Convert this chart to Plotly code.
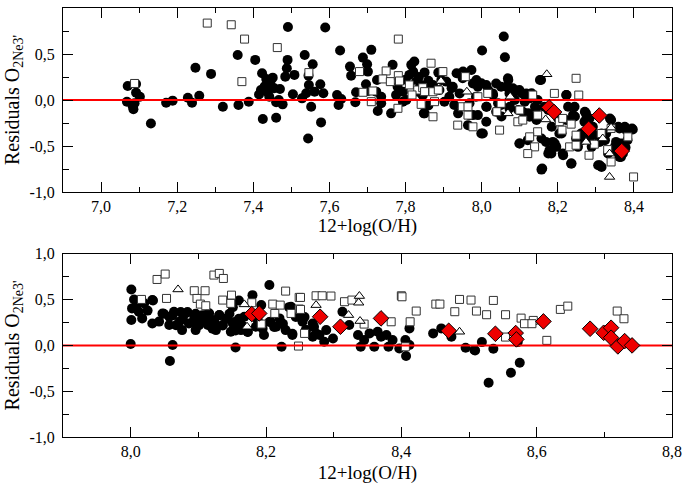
import plotly.graph_objects as go
from plotly.subplots import make_subplots

# ---------------- TOP PANEL DATA ----------------
top_circ_x = [7.070,7.092,7.092,7.102,7.068,7.083,7.085,7.088,7.131,7.171,7.188,7.228,7.239,7.248,7.258,7.289,7.320,
 7.359,7.361,7.388,7.405,7.423,7.434,7.451,7.42,7.438,7.455,7.442,7.467,7.46,7.477,7.425,7.46,7.491,7.49,7.488,7.484,7.508,
 7.535,7.556,7.545,7.546,7.539,7.528,7.504,7.552,7.544,7.561,7.576,7.584,7.578,7.589,7.62,7.624,7.628,7.631,7.654,7.657,
 7.67,7.668,7.688,7.699,7.701,7.71,7.696,7.701,7.725,7.723,7.736,7.736,7.727,7.762,7.766,7.779,7.793,7.802,7.815,7.823,
 7.81,7.828,7.841,7.832,7.848,7.775,7.793,7.43,7.445,7.47,7.415,7.80,7.82,7.835,7.85,7.86,7.855,7.845,7.86,
 7.886,7.894,7.921,7.934,7.951,7.973,7.938,7.964,7.977,7.986,7.999,8.001,7.999,8.017,8.013,8.03,8.043,8.052,8.058,8.061,
 8.065,8.07,8.078,8.074,8.087,8.096,8.105,8.1,8.113,8.122,8.131,8.14,8.144,8.153,8.157,8.157,8.175,8.175,8.184,8.192,
 8.201,8.21,8.214,8.223,8.227,8.236,8.245,8.253,8.262,8.271,8.275,8.28,8.284,8.289,8.306,8.315,8.315,8.324,8.337,8.35,
 8.359,8.367,8.376,8.383,8.395,8.366,8.332,
 7.907,7.924,7.95,7.977,7.99,8.012,8.038,8.069,8.051,8.082,8.099,8.117,7.915,7.942,7.985,8.029,8.082,8.126,8.147,7.902,
 7.85,7.928,7.968,7.99,8.012,8.012,8.051,8.073,8.108,8.126,8.143,7.968,8.003,8.099,8.121,8.169,8.183,8.196,8.159,8.156,
 8.073,8.038,7.889,7.872,
 8.165,8.196,8.222,8.24,8.244,8.222,8.274,8.283,8.27,8.292,8.261,8.248,8.283,8.301,8.31,8.204,8.187,8.178,8.213,8.235,
 8.31,8.34,8.362,8.38,8.397,8.353,8.358,8.362,8.349,8.378,8.371,8.327]
top_circ_y = [0.153,0.175,0.08,0.036,-0.018,-0.065,-0.10,-0.036,-0.255,-0.03,-0.007,0.025,-0.03,0.35,0.047,0.284,-0.073,
 0.49,-0.055,-0.018,0.436,0.29,0.229,0.243,0.109,0.083,0.127,0.036,0.0,-0.025,-0.047,-0.207,-0.193,0.793,0.436,0.345,0.254,0.273,
 0.49,0.389,0.265,0.164,0.073,0.018,0.062,-0.073,-0.418,0.091,0.171,0.073,-0.243,0.789,0.055,-0.055,0.538,0.011,0.363,0.265,
 0.084,-0.025,0.461,0.389,0.309,0.545,0.171,0.098,0.218,0.091,0.036,-0.036,-0.12,-0.145,0.382,0.145,0.091,0.0,0.382,0.418,
 0.273,0.2,0.164,0.091,-0.145,0.055,-0.018,0.15,0.18,0.12,0.06,0.22,0.31,0.25,0.30,0.21,0.12,0.05,-0.06,
 0.298,0.218,0.127,0.29,0.31,0.327,-0.145,-0.273,-0.164,0.218,0.182,0.538,-0.364,0.109,-0.073,0.055,-0.036,-0.18,0.69,0.465,
 0.145,0.218,0.073,-0.073,0.0,-0.109,0.073,-0.473,-0.018,-0.145,0.073,-0.073,-0.218,0.218,-0.418,-0.756,-0.109,-0.582,-0.291,-0.473,
 -0.2,-0.364,-0.6,0.055,-0.073,-0.69,-0.18,-0.509,-0.436,-0.127,-0.2,-0.327,-0.4,-0.509,-0.709,-0.727,-0.364,-0.436,-0.2,-0.509,
 -0.291,-0.473,-0.291,-0.436,-0.309,-0.618,-0.582,
 0.2,0.145,0.236,0.18,0.145,0.163,0.18,0.236,0.145,0.127,0.109,0.072,0.036,0.072,0.036,0.072,0.036,0.018,0.0,-0.018,
 -0.145,-0.055,-0.036,-0.164,-0.236,-0.073,-0.055,-0.091,-0.127,-0.182,-0.091,-0.164,-0.364,-0.473,-0.436,-0.455,-0.582,-0.509,-0.745,0.218,
 0.072,-0.127,0.109,0.163,
 -0.073,-0.164,-0.218,-0.164,-0.073,0.054,-0.145,-0.2,-0.236,-0.291,-0.364,-0.418,-0.418,-0.382,-0.455,-0.364,-0.455,-0.545,-0.582,-0.691,
 -0.709,-0.218,-0.309,-0.327,-0.32,-0.455,-0.491,-0.618,-0.545,-0.517,-0.582,-0.364]

top_sq_x = [7.088,7.279,7.342,7.377,7.463,7.37,7.546,7.679,7.749,7.74,7.76,7.781,7.781,7.784,7.688,7.714,7.71,7.78,7.815,
 7.832,7.845,7.85,7.817,7.841,7.867,7.81,7.898,7.957,7.872,7.886,7.876,7.872,7.99,8.016,7.949,7.964,7.964,7.937,7.977,
 8.051,8.04,8.1,8.095,8.108,8.047,8.134,8.147,8.147,8.126,8.139,8.121,8.191,8.204,8.248,8.255,8.213,8.235,8.211,8.248,
 8.231,8.248,8.296,8.282,8.314,8.34,8.384,8.34,8.399,8.331]
top_sq_y = [0.18,0.836,0.818,0.662,0.57,0.2,0.298,0.309,0.316,0.229,0.2,0.662,0.265,0.207,0.084,0.098,-0.018,-0.09,0.127,
 0.109,0.134,0.091,0.055,-0.047,0.4,0.164,0.309,0.254,0.09,0.109,-0.018,-0.182,0.036,0.072,-0.073,-0.073,-0.164,-0.273,-0.291,
 -0.036,-0.127,-0.109,-0.236,-0.218,-0.327,0.054,-0.164,-0.345,-0.4,-0.509,-0.582,0.072,-0.236,0.236,0.054,-0.2,-0.262,-0.327,-0.382,
 -0.509,-0.491,-0.48,-0.6,-0.364,-0.309,-0.4,-0.673,-0.836,-0.539]

top_tri_x = [7.893,7.961,8.069,8.075,8.171,8.168,8.274,8.318,8.34,8.336,8.336]
top_tri_y = [0.207,0.09,-0.145,0.036,0.28,-0.211,-0.455,-0.418,-0.3,-0.582,-0.836]

top_dia_x = [8.177,8.19,8.309,8.281,8.368]
top_dia_y = [-0.08,-0.13,-0.168,-0.313,-0.555]

# ---------------- BOTTOM PANEL DATA ----------------
bot_circ_x = [8.001,8.005,8.002,8.001,8.012,8.02,8.032,8.017,8.032,8.047,8.057,8.057,8.064,8.072,8.076,8.081,8.086,8.094,
 8.096,8.104,8.111,8.114,8.121,8.126,8.131,8.136,8.143,8.148,8.155,8.163,8.168,8.173,8.18,8.185,8.193,8.197,8.205,8.207,
 8.215,8.22,8.229,8.237,8.239,8.249,8.254,8.259,8.269,8.274,8.0,8.062,8.058,8.155,8.223,
 8.01,8.025,8.042,8.067,8.077,8.091,8.101,8.116,8.124,8.141,8.151,8.16,8.188,8.212,8.244,8.257,
 8.033,8.049,8.062,8.074,8.084,8.096,8.106,8.111,8.121,8.131,8.136,8.146,8.155,8.165,8.173,8.195,8.205,8.225,8.234,8.239,
 8.16,8.151,
 8.254,8.259,8.271,8.269,8.279,8.286,8.289,8.299,8.313,8.323,8.336,8.34,8.345,8.353,8.36,8.365,8.37,8.378,8.381,8.387,
 8.397,8.406,8.407,8.412,8.447,8.459,8.474,8.495,8.508,8.412,
 8.529,8.562,8.575,8.572,8.536,8.519,8.509]
bot_circ_y = [0.611,0.502,0.404,0.277,0.368,0.459,0.495,0.295,0.24,0.349,0.313,0.222,0.368,0.258,0.167,0.349,0.24,0.313,
 0.167,0.277,0.331,0.222,0.277,0.167,0.331,0.222,0.295,0.149,0.258,0.167,0.313,0.149,0.549,0.204,0.44,0.113,0.659,0.258,
 0.204,0.295,0.167,0.422,0.113,0.313,0.258,0.167,0.24,0.131,0.015,0.004,-0.171,-0.022,-0.015,
 0.45,0.38,0.26,0.22,0.29,0.25,0.22,0.35,0.25,0.29,0.24,0.29,0.27,0.2,0.31,0.31,
 0.491,0.346,0.328,0.364,0.364,0.346,0.328,0.273,0.182,0.328,0.218,0.346,0.164,0.218,0.146,0.182,0.255,0.237,0.418,0.127,
 0.49,0.418,
 0.277,0.167,0.204,0.095,0.113,0.04,0.167,0.076,0.368,0.222,0.113,-0.015,0.058,0.131,-0.015,0.149,0.095,0.113,-0.015,0.058,
 -0.033,0.058,-0.116,0.004,0.131,0.186,0.095,-0.025,-0.051,0.186,
 -0.408,-0.298,-0.189,0.036,-0.036,0.036,-0.055]

bot_sq_x = [8.039,8.051,8.016,8.053,8.094,8.11,8.098,8.103,8.111,8.123,8.131,8.137,8.136,8.149,8.148,8.179,8.193,8.21,
 8.221,8.213,8.229,8.249,8.249,8.237,8.257,8.248,8.274,
 8.251,8.283,8.296,8.251,8.316,8.327,8.4,8.401,8.422,8.385,8.413,8.451,8.457,8.486,8.503,8.479,8.511,8.406,8.345,
 8.554,8.577,8.582,8.595,8.593,8.615,8.554,8.635,8.646,8.719,8.729,8.536,8.526]
bot_sq_y = [0.72,0.779,0.502,0.513,0.597,0.597,0.513,0.451,0.433,0.768,0.786,0.731,0.495,0.549,0.459,0.466,0.233,0.451,
 0.44,0.349,0.593,0.524,0.397,0.349,0.131,-0.007,0.542,
 0.524,0.542,0.539,0.393,0.477,0.495,0.542,0.531,0.375,0.258,0.258,0.451,0.451,0.502,0.495,0.368,0.375,-0.015,0.233,
 0.335,0.298,0.237,0.273,0.237,0.055,0.091,0.393,0.429,0.375,0.291,0.491,0.335]

bot_tri_x = [8.07,8.168,8.172,8.274,8.322,8.338,8.337,8.339,8.486]
bot_tri_y = [0.611,0.448,0.204,0.44,0.331,0.539,0.466,0.266,0.149]

bot_dia_x = [8.179,8.19,8.28,8.31,8.37,8.47,8.539,8.569,8.57,8.61,8.679,8.699,8.71,8.71,8.72,8.73,8.741]
bot_dia_y = [0.342,0.349,0.313,0.204,0.295,0.16,0.127,0.135,0.066,0.262,0.182,0.138,0.193,0.084,-0.011,0.047,0.0]

top_xrange = [6.9, 8.5]
bot_xrange = [7.9, 8.8]
top_xticks = [7.0, 7.2, 7.4, 7.6, 7.8, 8.0, 8.2, 8.4]
top_xtext = ["7,0", "7,2", "7,4", "7,6", "7,8", "8,0", "8,2", "8,4"]
bot_xticks = [8.0, 8.2, 8.4, 8.6, 8.8]
bot_xtext = ["8,0", "8,2", "8,4", "8,6", "8,8"]
yticks = [-1.0, -0.5, 0.0, 0.5, 1.0]
ytext = ["-1,0", "-0,5", "0,0", "0,5", "1,0"]

FONT = "Liberation Serif"

fig = make_subplots(rows=2, cols=1, vertical_spacing=0.144)

def add_panel(row, cx, cy, sx, sy, tx, ty, dx, dy, xr):
    fig.add_trace(go.Scatter(x=cx, y=cy, mode="markers",
        marker=dict(symbol="circle", size=10, color="black", line=dict(width=0)),
        showlegend=False, hoverinfo="skip", cliponaxis=False), row=row, col=1)
    fig.add_trace(go.Scatter(x=sx, y=sy, mode="markers",
        marker=dict(symbol="square", size=8, color="white", line=dict(width=1, color="#333333")),
        showlegend=False, hoverinfo="skip", cliponaxis=False), row=row, col=1)
    fig.add_trace(go.Scatter(x=xr, y=[0, 0], mode="lines",
        line=dict(color="#ff0000", width=2), showlegend=False, hoverinfo="skip"), row=row, col=1)
    fig.add_trace(go.Scatter(x=tx, y=ty, mode="markers",
        marker=dict(symbol="triangle-up", size=9, color="white", line=dict(width=1, color="black")),
        showlegend=False, hoverinfo="skip", cliponaxis=False), row=row, col=1)
    fig.add_trace(go.Scatter(x=dx, y=dy, mode="markers",
        marker=dict(symbol="diamond", size=12, color="#ee0000", line=dict(width=1, color="black")),
        showlegend=False, hoverinfo="skip", cliponaxis=False), row=row, col=1)

add_panel(1, top_circ_x, top_circ_y, top_sq_x, top_sq_y, top_tri_x, top_tri_y, top_dia_x, top_dia_y, top_xrange)
add_panel(2, bot_circ_x, bot_circ_y, bot_sq_x, bot_sq_y, bot_tri_x, bot_tri_y, bot_dia_x, bot_dia_y, bot_xrange)

axis_common = dict(showline=True, linecolor="black", linewidth=1, mirror="allticks",
                   ticks="inside", tickcolor="black", showgrid=False, zeroline=False,
                   automargin=False,
                   tickfont=dict(family=FONT, size=16, color="black"))

for row, xr, xt, xtt, st in [(1, top_xrange, top_xticks, top_xtext, 2), (2, bot_xrange, bot_xticks, bot_xtext, 8)]:
    fig.update_xaxes(range=xr, tickmode="array", tickvals=xt, ticktext=xtt, ticklen=10,
                     ticklabelstandoff=0,
                     minor=dict(dtick=0.1, tick0=7.0, ticklen=5, tickcolor="black", ticks="inside", showgrid=False),
                     title=dict(text="12+log(O/H)", font=dict(family=FONT, size=19, color="black"), standoff=st),
                     row=row, col=1, **axis_common)
    fig.update_yaxes(range=[-1.0, 1.0], tickmode="array", tickvals=yticks, ticktext=ytext, ticklen=10,
                     ticklabelstandoff=4,
                     minor=dict(dtick=0.25, tick0=0, ticklen=6, tickcolor="black", ticks="inside", showgrid=False),
                     title=dict(text="Residuals O<sub>2Ne3'</sub>", font=dict(family=FONT, size=20, color="black"), standoff=4),
                     row=row, col=1, **axis_common)

fig.update_layout(width=684, height=484, margin=dict(l=63, r=12, t=8, b=47, autoexpand=False),
                  plot_bgcolor="white", paper_bgcolor="white",
                  font=dict(family=FONT, color="black"))
fig.update_layout(yaxis=dict(domain=[0.571, 1.0]), yaxis2=dict(domain=[0.0, 0.427]))

fig.write_html("out.html", config={"displayModeBar": False},
               post_script="document.body.style.margin='0';document.body.style.overflow='hidden';")
